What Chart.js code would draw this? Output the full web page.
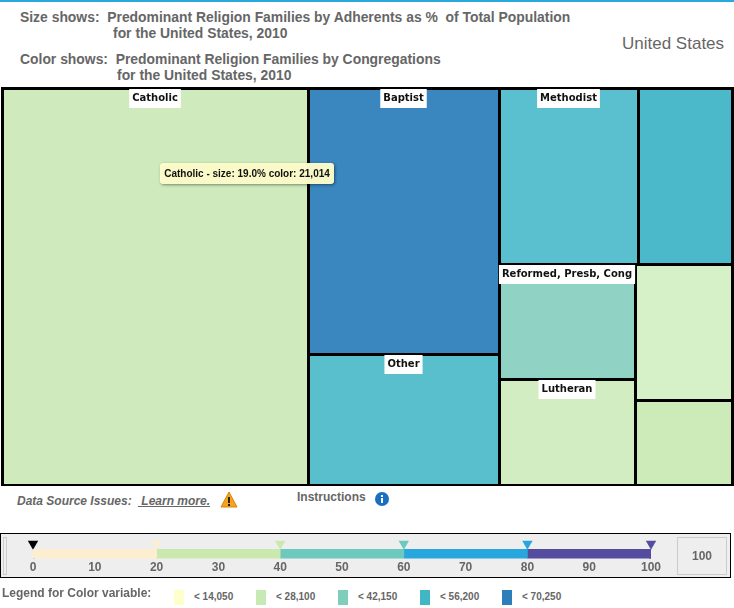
<!DOCTYPE html>
<html>
<head>
<meta charset="utf-8">
<script src="https://cdn.jsdelivr.net/npm/chart.js@4/dist/chart.umd.js"></script>
<style>
  html, body { margin: 0; padding: 0; background: #fff; }
  body { width: 734px; height: 608px; position: relative; overflow: hidden; font-family: "Liberation Sans", Arial, sans-serif; color: #666; }
  .t { position: absolute; white-space: pre; font-weight: bold; line-height: 16px; }
  #topline { position: absolute; left: 0; top: 0; width: 734px; height: 2px; background: #2aa7dc; }
  #treeWrap { position: absolute; left: 1px; top: 87px; width: 733px; height: 399px; background: #000; }
  #panel { position: absolute; left: 0; top: 533px; width: 729px; height: 43px; border: 1px solid #000; background: #eee; }
  #sliderWrap { position: absolute; left: 0; top: 2px; width: 729px; height: 41px; }
  #handle { position: absolute; left: 2px; top: 3px; width: 2px; height: 36px; border: 1px solid #ccc; }
  #maxBox { position: absolute; left: 676px; top: 3px; width: 48px; height: 36px; border: 1px solid #ccc; text-align: center; line-height: 36px; font-weight: bold; font-size: 12px; color: #666; }
  .sw { position: absolute; top: 590px; width: 10px; height: 15px; }
  .lg { position: absolute; top: 590px; font-size: 10px; font-weight: bold; line-height: 14px; white-space: pre; }
</style>
</head>
<body>
<div id="topline"></div>
<div class="t" style="left:20px;top:9px;font-size:13.9px">Size shows:  Predominant Religion Families by Adherents as %  of Total Population</div>
<div class="t" style="left:113px;top:25px;font-size:13.9px">for the United States, 2010</div>
<div class="t" style="left:20px;top:51px;font-size:13.9px">Color shows:  Predominant Religion Families by Congregations</div>
<div class="t" style="left:117px;top:67px;font-size:13.9px">for the United States, 2010</div>
<div class="t" style="left:622px;top:36px;font-size:17px;font-weight:normal">United States</div>

<div id="treeWrap"><canvas id="tree"></canvas></div>

<div class="t" style="left:17px;top:493px;font-size:12px;font-style:italic">Data Source Issues:</div>
<div class="t" style="left:138px;top:493px;font-size:12px;font-style:italic;text-decoration:underline"> Learn more.</div>
<svg style="position:absolute;left:220px;top:491px" width="18" height="18" viewBox="0 0 18 18">
  <path d="M9 1 L17 16 H1 Z" fill="#f9a31a" stroke="#d9820f" stroke-width="1"/>
  <rect x="8" y="6" width="2" height="6" fill="#222"/><rect x="8" y="13" width="2" height="2" fill="#222"/>
</svg>
<div class="t" style="left:297px;top:489px;font-size:12px">Instructions</div>
<svg style="position:absolute;left:375px;top:492px" width="14" height="14" viewBox="0 0 14 14">
  <circle cx="7" cy="7" r="7" fill="#1b6fc0"/>
  <rect x="6" y="6" width="2" height="5" fill="#fff"/><rect x="6" y="3" width="2" height="2" fill="#fff"/>
</svg>

<div id="panel">
  <div id="sliderWrap"><canvas id="slider"></canvas></div>
  <div id="handle"></div>
  <div id="maxBox">100</div>
</div>

<div class="t" style="left:2px;top:585px;font-size:12px">Legend for Color variable:</div>
<div id="legendBox"></div>

<script>
// Treemap data
const categories = ["Catholic", "Baptist", "Other", "Methodist", "", "Reformed, Presb, Cong", "Lutheran", "", ""];
const sizeValues = [19.0, 7.95, 3.91, 3.82, 2.59, 2.45, 2.25, 2.06, 1.29];
const colorValues = [21014, 66000, 47000, 46000, 50000, 35000, 20000, 17000, 24000];
const cellColors = ["#cfebbd", "#3a86be", "#59bfcd", "#5abfcf", "#4cb9ca", "#90d3c4", "#d3edc3", "#d6f0c7", "#cdebb9"];
// nesting of the cells, "h" = side by side, "v" = on top of each other
const cellTree = ["h", 0, ["v", 1, 2], ["v", ["h", 3, 4], ["h", ["v", 5, 6], ["v", 7, 8]]]];

// Slider + legend
const sliderStops = [0, 20, 40, 60, 80, 100];
const sliderTicks = [0, 10, 20, 30, 40, 50, 60, 70, 80, 90, 100];
const sliderColors = ["#fdeecf", "#cbe9ae", "#6dc9bd", "#28a7df", "#544c9f"];
const markerColors = ["#000000", "#fdeecf", "#cbe9ae", "#6dc9bd", "#28a7df", "#544c9f"];
const sliderEdges = [[0, 0.25], [99.75, 100]];
const edgeColors = ["#888888", "#333333"];
const legendLabels = ["< 14,050", "< 28,100", "< 42,150", "< 56,200", "< 70,250"];
const legendColors = ["#ffffcc", "#c7e9b4", "#7fcdbb", "#41b6c4", "#2c7fb8"];

Chart.defaults.animation = false;
Chart.defaults.font.family = '"Liberation Sans", Arial, sans-serif';

// sum of all sizes below a tree node
function nodeSize(node) {
  if (typeof node === "number") return sizeValues[node];
  return node.slice(1).reduce((s, n) => s + nodeSize(n), 0);
}

// walk the tree and split the unit square by size
function sliceTree(node, x0, y0, x1, y1, out) {
  if (typeof node === "number") {
    out[node] = { x0, y0, x1, y1 };
    return out;
  }
  const total = nodeSize(node);
  let pos = node[0] === "h" ? x0 : y0;
  node.slice(1).forEach(n => {
    const share = nodeSize(n) / total;
    if (node[0] === "h") {
      const w = (x1 - x0) * share;
      sliceTree(n, pos, y0, pos + w, y1, out);
      pos += w;
    } else {
      const h = (y1 - y0) * share;
      sliceTree(n, x0, pos, x1, pos + h, out);
      pos += h;
    }
  });
  return out;
}

class TreemapController extends Chart.DatasetController {
  update(mode) {
    const meta = this._cachedMeta;
    this.updateElements(meta.data, 0, meta.data.length, mode);
  }

  updateElements(rects, start, count, mode) {
    const { xScale, yScale } = this._cachedMeta;
    const cells = sliceTree(cellTree, 0, 0, 1, 1, []);
    for (let i = start; i < start + count; i++) {
      const c = cells[i];
      const left = Math.round(xScale.getPixelForValue(c.x0));
      const right = Math.round(xScale.getPixelForValue(c.x1));
      const top = Math.round(yScale.getPixelForValue(c.y0));
      const bottom = Math.round(yScale.getPixelForValue(c.y1));
      this.updateElement(rects[i], i, {
        x: (left + right) / 2,
        y: top,
        base: bottom,
        width: right - left,
        height: bottom - top,
        horizontal: false,
        inflateAmount: 0,
        enableBorderRadius: false,
        borderSkipped: { top: false, left: false, bottom: false, right: false },
        options: {
          backgroundColor: cellColors[i],
          borderColor: "#000",
          borderWidth: { top: 2, left: 2, bottom: 1, right: 1 },
          borderRadius: 0
        }
      }, "none");
    }
  }

  draw() {
    const ctx = this.chart.ctx;
    const rects = this._cachedMeta.data;
    rects.forEach(r => r.draw(ctx));

    // white name tags
    ctx.save();
    ctx.font = 'bold 10px "DejaVu Sans"';
    ctx.textAlign = "center";
    ctx.textBaseline = "middle";
    rects.forEach((r, i) => {
      if (!categories[i]) return;
      const w = ctx.measureText(categories[i]).width + 6;
      ctx.fillStyle = "#fff";
      ctx.fillRect(r.x - w / 2, r.y + 1, w, 19);
      ctx.fillStyle = "#111";
      ctx.fillText(categories[i], r.x, r.y + 10);
    });

    // the hover tag over the first cell
    const first = rects[0];
    const text = categories[0] + " - size: " + sizeValues[0].toFixed(1) + "% color: " + colorValues[0].toLocaleString("en-US");
    const tipX = first.x + 92;
    const tipY = first.y + 85;
    ctx.font = 'bold 10px "Liberation Sans"';
    ctx.shadowColor = "rgba(0,0,0,0.45)";
    ctx.shadowBlur = 3;
    ctx.shadowOffsetX = 1;
    ctx.shadowOffsetY = 1;
    ctx.fillStyle = "rgba(255,255,205,0.96)";
    ctx.beginPath();
    ctx.roundRect(tipX - 87, tipY - 10, 174, 21, 3);
    ctx.fill();
    ctx.shadowColor = "transparent";
    ctx.fillStyle = "#111";
    ctx.fillText(text, tipX, tipY + 1);
    ctx.restore();
  }
}
TreemapController.id = "treemap";
TreemapController.defaults = { datasetElementType: false, dataElementType: "bar" };
Chart.register(TreemapController);

new Chart(document.getElementById("tree"), {
  type: "treemap",
  data: {
    datasets: [{
      parsing: false,
      normalized: true,
      data: categories.map((c, i) => ({ name: c, size: sizeValues[i] }))
    }]
  },
  options: {
    responsive: true,
    maintainAspectRatio: false,
    events: [],
    layout: { padding: { left: 1, right: 2, top: 1, bottom: 1 } },
    plugins: { legend: { display: false }, tooltip: { enabled: false } },
    scales: {
      x: { type: "linear", display: false, min: 0, max: 1 },
      y: { type: "linear", display: false, reverse: true, min: 0, max: 1 }
    }
  }
});

// Bottom slider
const sliderSets = sliderColors.map((col, i) => ({
  type: "bar",
  indexAxis: "y",
  xAxisID: "x",
  yAxisID: "yBar",
  data: [null, [sliderStops[i], sliderStops[i + 1]]],
  backgroundColor: col,
  barThickness: 10,
  grouped: false
}));
sliderEdges.forEach((edge, i) => {
  sliderSets.push({
    type: "bar",
    indexAxis: "y",
    xAxisID: "x",
    yAxisID: "yBar",
    data: [null, edge],
    backgroundColor: edgeColors[i],
    barThickness: 10,
    grouped: false
  });
});
sliderSets.push({
  type: "scatter",
  xAxisID: "x",
  yAxisID: "yMark",
  clip: false,
  data: sliderStops.map(s => ({ x: s, y: 0.9 })),
  pointStyle: "triangle",
  rotation: 180,
  pointRadius: 6,
  pointBackgroundColor: markerColors,
  pointBorderWidth: 0
});

new Chart(document.getElementById("slider"), {
  data: { labels: ["", "bar"], datasets: sliderSets },
  options: {
    responsive: true,
    maintainAspectRatio: false,
    events: [],
    layout: { padding: { left: 32, right: 79, top: 1, bottom: 0 } },
    plugins: { legend: { display: false }, tooltip: { enabled: false } },
    scales: {
      x: {
        type: "linear",
        min: 0,
        max: 100,
        afterBuildTicks: axis => { axis.ticks = sliderTicks.map(v => ({ value: v })); },
        grid: { display: false, drawTicks: false },
        border: { display: false },
        ticks: { color: "#666", font: { size: 12, weight: "bold" }, padding: 2, maxRotation: 0, autoSkip: false }
      },
      yBar: { type: "category", display: false },
      yMark: { type: "linear", display: false, min: 0, max: 1 }
    }
  }
});

// HTML legend row
const legendBox = document.getElementById("legendBox");
legendLabels.forEach((label, i) => {
  const sw = document.createElement("div");
  sw.className = "sw";
  sw.style.left = (174 + i * 82) + "px";
  sw.style.background = legendColors[i];
  legendBox.appendChild(sw);
  const t = document.createElement("div");
  t.className = "lg";
  t.style.left = (194 + i * 82) + "px";
  t.textContent = label;
  legendBox.appendChild(t);
});
</script>
</body>
</html>
